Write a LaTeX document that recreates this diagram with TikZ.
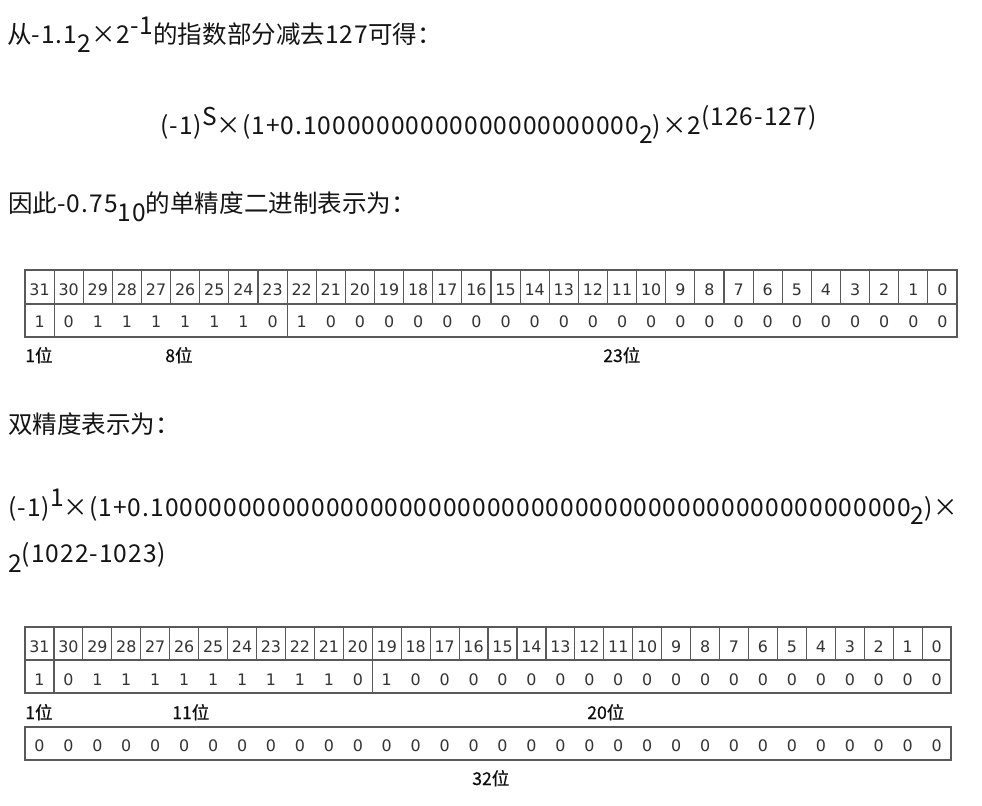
\documentclass[tikz,border=0pt]{standalone}
\usepackage{fontspec}
\setmainfont{Noto Sans CJK SC}
\newfontfamily\tabfont{DejaVu Sans}
\newfontfamily\cjkfont{Noto Sans CJK SC}
\newfontfamily\lblfont[FakeBold=0.5]{Noto Sans CJK SC}
\newfontfamily\latf[LetterSpace=4.2]{Noto Sans CJK SC}
\newcommand\upx[1]{\raisebox{0.38em}{#1}}
\newcommand\dnx[1]{\raisebox{-0.33em}{#1}}
\newcommand\tenz{0000000000}
\begin{document}
\begin{tikzpicture}[x=0.75pt,y=-0.75pt,
  txt/.style={anchor=base west, inner sep=0pt, text=black!92, font=\cjkfont\fontsize{18.4pt}{22pt}\selectfont},
  cellnum/.style={anchor=base, inner sep=0pt, text=black!80, font=\tabfont\fontsize{11.9pt}{13pt}\selectfont},
  lbl/.style={anchor=base west, inner sep=0pt, text=black!95, font=\lblfont\fontsize{13.2pt}{15pt}\selectfont},
  gridline/.style={draw=black!65, line width=0.9pt}]
\useasboundingbox[fill=white] (0,0) rectangle (982,806);

% ---- text lines ----
\node[txt] (l1) at (7,44) {从{\latf-1.1\dnx{2}×2\upx{-1}}的指数部分减去{\latf 127}可得：};
\node[txt] (l2) at (160,135) {\latf(-1)\upx{S}×(1+0.1\tenz\tenz00\dnx{2})×2\upx{(126-127)}};
\node[txt] (l3) at (8,213) {因此{\latf-0.75\dnx{10}}的单精度二进制表示为：};
\node[txt] (l4) at (8,433) {双精度表示为：};
\node[txt] (l5) at (8,516) {\latf(-1)\upx{1}×(1+0.1\tenz\tenz\tenz\tenz\tenz0\dnx{2})×};
\node[txt] (l6) at (8,572) {\latf 2\upx{(1022-1023)}};

% ---- single precision table ----
\def\wA{29.125}
\draw[gridline] (25,270) rectangle (957,337);
\draw[gridline] (25,304) -- (957,304);
\foreach \i in {1,...,31} \draw[gridline] ({25+\i*\wA},270) -- ({25+\i*\wA},304);
\draw[gridline] ({25+1*\wA},304) -- ({25+1*\wA},337);
\draw[gridline] ({25+9*\wA},304) -- ({25+9*\wA},337);
\foreach \i in {0,...,31} {
  \pgfmathtruncatemacro\n{31-\i}
  \node[cellnum] (sa\n) at ({25+(\i+0.5)*\wA},296) {\n};
}
\foreach \b [count=\i from 0] in {1,0,1,1,1,1,1,1,0,1,0,0,0,0,0,0,0,0,0,0,0,0,0,0,0,0,0,0,0,0,0,0} {
  \node[cellnum] (sb\i) at ({25+(\i+0.5)*\wA},327) {\b};
}
\node[lbl] (s1) at (25,362) {1位};
\node[lbl] (s8) at (165,362) {8位};
\node[lbl] (s23) at (603,362) {23位};

% ---- double precision table ----
\def\wB{28.94}
\draw[gridline] (25,627) rectangle (951,693);
\draw[gridline] (25,660) -- (951,660);
\foreach \i in {1,...,31} \draw[gridline] ({25+\i*\wB},627) -- ({25+\i*\wB},660);
\draw[gridline] ({25+1*\wB},660) -- ({25+1*\wB},693);
\draw[gridline] ({25+12*\wB},660) -- ({25+12*\wB},693);
\foreach \i in {0,...,31} {
  \pgfmathtruncatemacro\n{31-\i}
  \node[cellnum] (da\n) at ({25+(\i+0.5)*\wB},652) {\n};
}
\foreach \b [count=\i from 0] in {1,0,1,1,1,1,1,1,1,1,1,0,1,0,0,0,0,0,0,0,0,0,0,0,0,0,0,0,0,0,0,0} {
  \node[cellnum] (db\i) at ({25+(\i+0.5)*\wB},685) {\b};
}
\node[lbl] (d1) at (25,719) {1位};
\node[lbl] (d11) at (172,719) {11位};
\node[lbl] (d20) at (587,719) {20位};
\draw[gridline] (25,727) rectangle (951,760);
\foreach \i in {0,...,31} {
  \node[cellnum] (dc\i) at ({25+(\i+0.5)*\wB},751) {0};
}
\node[lbl] (d32) at (472,785) {32位};
\end{tikzpicture}
\end{document}
